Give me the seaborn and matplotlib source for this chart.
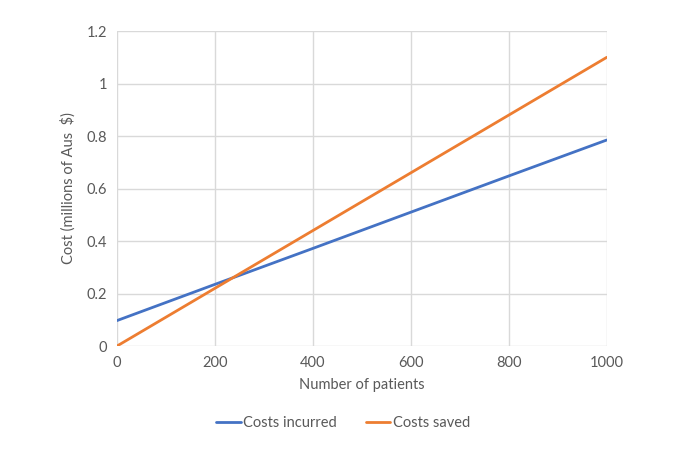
import seaborn as sns
import matplotlib.pyplot as plt
import pandas as pd

patients = [0, 200, 400, 600, 800, 1000]
costs_incurred = [0.097, 0.235, 0.372, 0.510, 0.648, 0.785]
costs_saved = [0.0, 0.22, 0.44, 0.66, 0.88, 1.10]

df = pd.DataFrame({
    'patients': patients * 2,
    'cost': costs_incurred + costs_saved,
    'series': ['Costs incurred'] * len(patients) + ['Costs saved'] * len(patients),
})

sns.set_style('white')
plt.rcParams['font.family'] = ['Lato', 'DejaVu Sans']
text_col = '#595959'

fig = plt.figure(figsize=(6.88, 4.5), dpi=100)
ax = fig.add_axes([0.170, 0.231, 0.712, 0.700])
sns.lineplot(data=df, x='patients', y='cost', hue='series',
             palette=['#4472C4', '#ED7D31'], linewidth=2, ax=ax)

ax.set_xlim(0, 1000)
ax.set_ylim(0, 1.2)
ax.set_xticks([0, 200, 400, 600, 800, 1000])
ax.set_yticks([0, 0.2, 0.4, 0.6, 0.8, 1, 1.2])
ax.set_yticklabels(['0', '0.2', '0.4', '0.6', '0.8', '1', '1.2'])
ax.grid(True, color='#D9D9D9', linewidth=1)
ax.set_axisbelow(True)
for s in ax.spines.values():
    s.set_visible(False)
ax.tick_params(length=0, labelsize=10.5, colors=text_col, pad=7)

ax.set_xlabel('Number of patients', fontsize=10.5, color=text_col, labelpad=6)
ax.set_ylabel('Cost (millions of Aus  $)', fontsize=10.5, color=text_col, labelpad=8)

handles, labels = ax.get_legend_handles_labels()
ax.legend(handles, labels, loc='center', bbox_to_anchor=(0.461, -0.245),
          ncol=2, frameon=False, fontsize=10.5, labelcolor=text_col,
          handlelength=1.7, handletextpad=0.15, columnspacing=2.0)

plt.savefig('out.png', dpi=100)
